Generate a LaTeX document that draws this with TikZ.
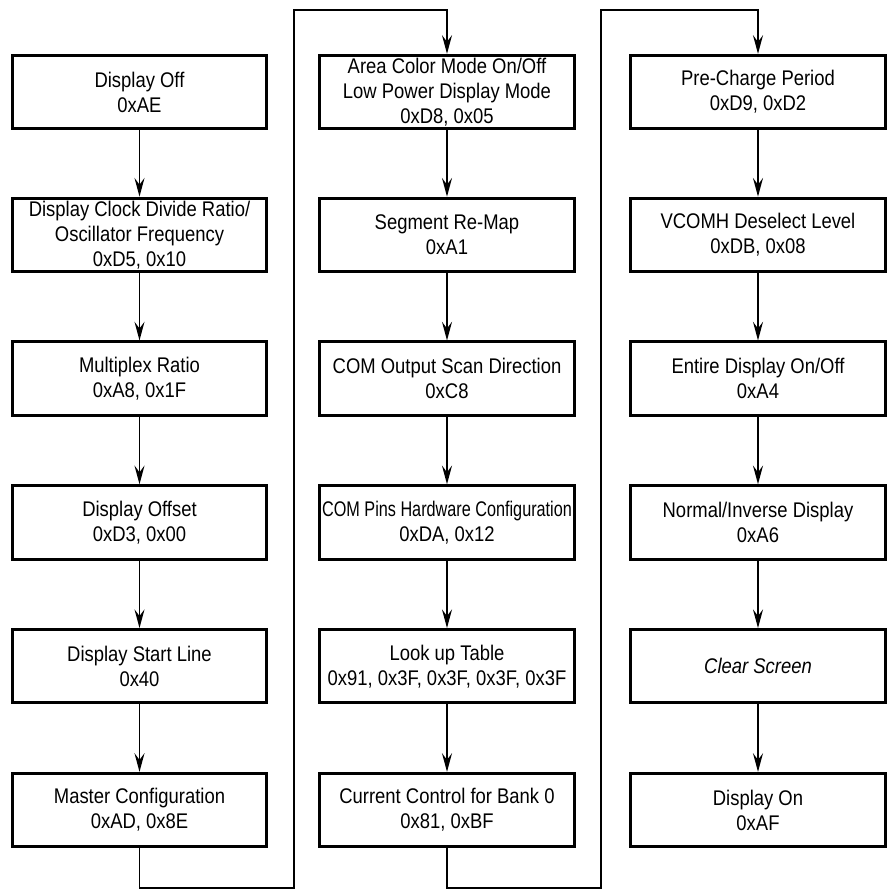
\documentclass[tikz,border=0pt]{standalone}
\usepackage{fontspec}
\setmainfont{Liberation Sans}[FakeStretch=0.87]
\usetikzlibrary{arrows.meta}

\begin{document}
\begin{tikzpicture}[x=0.75pt,y=-0.75pt,
    cmdbox/.style={draw,line width=2.2pt,fill=white,minimum width=191pt,
        minimum height=55pt,inner sep=2pt,align=center,
        font=\fontsize{15.9pt}{18.75pt}\selectfont},
    flow/.style={line width=1.3pt,-{Stealth[length=14pt,width=7.5pt,inset=5pt]}},
    wire/.style={line width=1.3pt}]

\useasboundingbox (0,0) rectangle (894,890);

% === LEFT COLUMN ===
\node[cmdbox] (a1) at (139.5,92)    {Display Off\\0xAE};
\node[cmdbox] (a2) at (139.5,234.8) {Display Clock Divide Ratio/\\Oscillator Frequency\\0xD5, 0x10};
\node[cmdbox] (a3) at (139.5,378.6) {Multiplex Ratio\\0xA8, 0x1F};
\node[cmdbox] (a4) at (139.5,522.4) {Display Offset\\0xD3, 0x00};
\node[cmdbox] (a5) at (139.5,666.2) {Display Start Line\\0x40};
\node[cmdbox] (a6) at (139.5,810)   {Master Configuration\\0xAD, 0x8E};

% === MIDDLE COLUMN ===
\node[cmdbox] (b1) at (447,92)    {Area Color Mode On/Off\\Low Power Display Mode\\0xD8, 0x05};
\node[cmdbox] (b2) at (447,234.8) {Segment Re-Map\\0xA1};
\node[cmdbox] (b3) at (447,378.6) {COM Output Scan Direction\\0xC8};
\node[cmdbox] (b4) at (447,522.4) {\scalebox{0.88}[1]{COM Pins Hardware Configuration}\\0xDA, 0x12};
\node[cmdbox] (b5) at (447,666.2) {Look up Table\\0x91, 0x3F, 0x3F, 0x3F, 0x3F};
\node[cmdbox] (b6) at (447,810)   {Current Control for Bank 0\\0x81, 0xBF};

% === RIGHT COLUMN ===
\node[cmdbox] (c1) at (758,92)    {Pre-Charge Period\\0xD9, 0xD2};
\node[cmdbox] (c2) at (758,234.8) {VCOMH Deselect Level\\0xDB, 0x08};
\node[cmdbox] (c3) at (758,378.6) {Entire Display On/Off\\0xA4};
\node[cmdbox] (c4) at (758,522.4) {Normal/Inverse Display\\0xA6};
\node[cmdbox] (c5) at (758,666.2) {\itshape Clear Screen};
\node[cmdbox] (c6) at (758,810)   {Display On\\0xAF};

% Arrows down each column
\foreach \col in {a,b,c} {
    \foreach \i [evaluate=\i as \j using int(\i+1)] in {1,...,5} {
        \draw[flow] (\col\i) -- (\col\j);
    }
}

% Return lines between columns
\coordinate (lowAB) at (294,888);
\coordinate (topAB) at (294,10);
\coordinate (lowBC) at (601,888);
\coordinate (topBC) at (601,10);
\draw[flow] (a6.south) |- (lowAB) -- (topAB) -| (b1.north);
\draw[flow] (b6.south) |- (lowBC) -- (topBC) -| (c1.north);

\end{tikzpicture}
\end{document}
